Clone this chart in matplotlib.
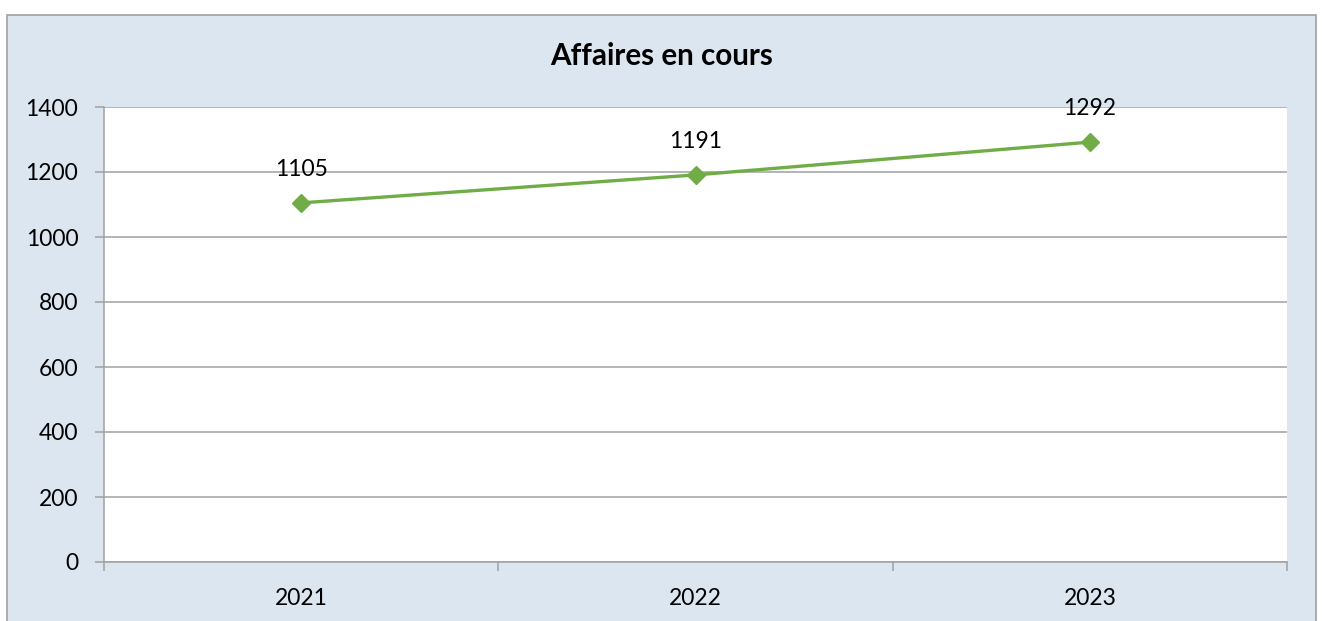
import matplotlib
matplotlib.use("Agg")
import matplotlib.pyplot as plt
from matplotlib.patches import Rectangle

years = ["2021", "2022", "2023"]
values = [1105, 1191, 1292]
yticks = [0, 200, 400, 600, 800, 1000, 1200, 1400]

plt.rcParams['font.family'] = ['Lato', 'DejaVu Sans']

W, H = 1322, 621
fig = plt.figure(figsize=(W / 100, H / 100), dpi=100)
fig.patch.set_facecolor("white")

bg = Rectangle((7 / W, -0.05), (1316 - 7) / W, (621 - 15) / H + 0.05,
               transform=fig.transFigure, facecolor="#DCE6F1",
               edgecolor="#A0A0A0", linewidth=1.2, zorder=-10)
fig.patches.append(bg)

ax = fig.add_axes([104 / W, (H - 562) / H, (1287 - 104) / W, (562 - 107) / H])
ax.set_zorder(1)
ax.set_facecolor("white")

FS = 16.5
x = list(range(len(years)))
ax.plot(x, values, color="#70AD47", linewidth=2.4, marker="D", markersize=9,
        zorder=3)
for xi, v in zip(x, values):
    ax.annotate(str(v), (xi, v), xytext=(0, 24), textcoords="offset points",
                ha="center", va="center", fontsize=FS, color="black")

ax.set_ylim(0, 1400)
ax.set_xlim(-0.5, len(years) - 0.5)
ax.set_yticks(yticks)
ax.set_yticklabels([str(t) for t in yticks], fontsize=FS)
ax.yaxis.grid(True, color="#A0A0A0", linewidth=1.1)
ax.set_axisbelow(True)

ax.set_xticks(x)
ax.set_xticklabels(years, fontsize=FS)
ax.tick_params(axis="x", which="major", length=0, pad=19)
ax.set_xticks([i - 0.5 for i in range(len(years) + 1)], minor=True)
ax.tick_params(axis="x", which="minor", length=6.5, color="#A0A0A0", width=1.1)
ax.tick_params(axis="y", length=6.5, color="#A0A0A0", width=1.1, pad=12)

for s in ["top", "right"]:
    ax.spines[s].set_visible(False)
for s in ["left", "bottom"]:
    ax.spines[s].set_color("#A0A0A0")
    ax.spines[s].set_linewidth(1.1)

fig.text(662 / W, (H - 56) / H, "Affaires en cours", ha="center", va="center",
         fontsize=21.3, fontweight="bold")

fig.savefig("out.png", dpi=100)
